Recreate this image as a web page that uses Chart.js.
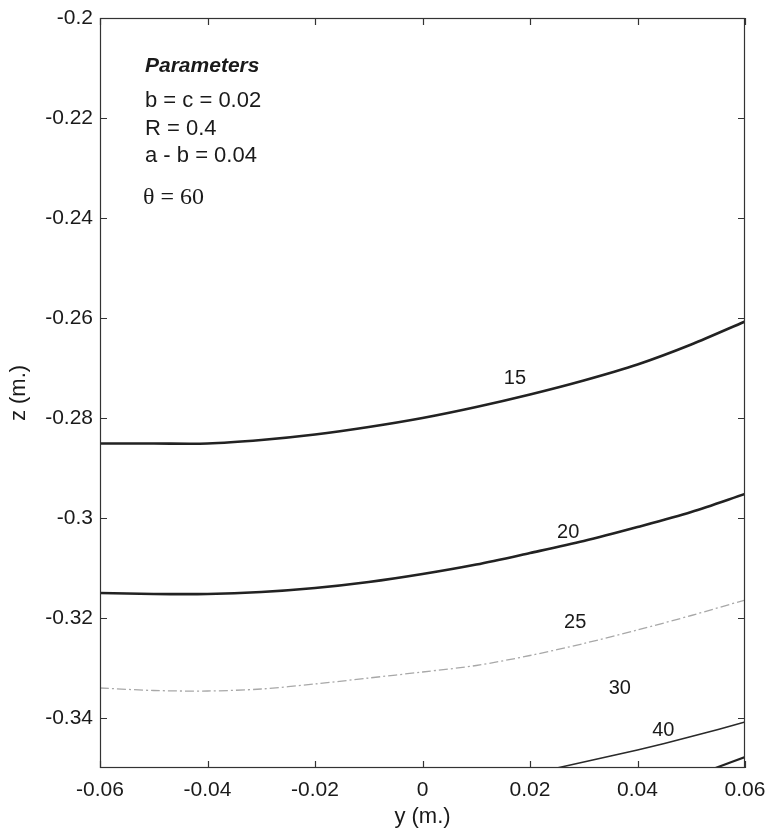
<!DOCTYPE html>
<html lang="en">
<head>
    <meta charset="UTF-8">
    <title>Contours z(y)</title>
    <script src="https://cdn.jsdelivr.net/npm/chart.js"></script>
    <style>
        html, body { margin: 0; padding: 0; background: #fff; }
        #wrap { width: 769px; height: 830px; position: relative; }
    </style>
</head>
<body>
<div id="wrap"><canvas id="contourChart"></canvas></div>
<script>
// contour lines, y (m.) against z (m.)
const yPos = [-0.06, -0.05, -0.04, -0.03, -0.02, -0.01, 0, 0.01, 0.02, 0.03, 0.04, 0.05, 0.06];
const z15 = [-0.2851, -0.2851, -0.2851, -0.2844, -0.2833, -0.2818, -0.2800, -0.2778, -0.2753, -0.2725, -0.2693, -0.2653, -0.2607];
const z20 = [-0.3150, -0.3152, -0.3152, -0.3148, -0.3140, -0.3128, -0.3112, -0.3093, -0.3070, -0.3046, -0.3018, -0.2988, -0.2952];
const z25 = [-0.3340, -0.3345, -0.3346, -0.3342, -0.3332, -0.3320, -0.3308, -0.3295, -0.3275, -0.3251, -0.3224, -0.3195, -0.3164];
const y40 = [0.025, 0.03, 0.035, 0.04, 0.045, 0.05, 0.055, 0.06];
const z40 = [-0.35, -0.3488, -0.3476, -0.3464, -0.3451, -0.3437, -0.3423, -0.3408];
const y50 = [0.0545, 0.06];
const z50 = [-0.35, -0.3478];

// contour value labels
const contourLabels = ['15', '20', '25', '30', '40'];
const labelY = [0.0172, 0.0271, 0.0284, 0.0367, 0.0448];
const labelZ = [-0.272, -0.3028, -0.3208, -0.334, -0.3424];

const xTicks = [-0.06, -0.04, -0.02, 0, 0.02, 0.04, 0.06];
const zTicks = [-0.34, -0.32, -0.3, -0.28, -0.26, -0.24, -0.22, -0.2];

const paramTitle = 'Parameters';
const paramLines = ['b = c = 0.02', 'R = 0.4', 'a - b = 0.04'];
const angleLine = 'θ = 60';

const FONT = "'Liberation Sans', Arial, sans-serif";
const toPts = (xs, zs) => xs.map((v, i) => ({ x: v, y: zs[i] }));

// box, inward ticks and the text inside the axes
const frameTicks = {
    id: 'frameTicks',
    afterDatasetsDraw(chart) {
        const { ctx, chartArea: a, scales: { x, y } } = chart;
        ctx.save();
        ctx.strokeStyle = '#333';
        ctx.lineWidth = 1.2;
        ctx.strokeRect(a.left + 0.5, a.top + 0.5, a.width - 1, a.height - 1);
        ctx.beginPath();
        xTicks.forEach(v => {
            const px = Math.round(x.getPixelForValue(v)) + 0.5;
            ctx.moveTo(px, a.bottom); ctx.lineTo(px, a.bottom - 7);
            ctx.moveTo(px, a.top); ctx.lineTo(px, a.top + 7);
        });
        zTicks.forEach(v => {
            const py = Math.round(y.getPixelForValue(v)) + 0.5;
            ctx.moveTo(a.left, py); ctx.lineTo(a.left + 7, py);
            ctx.moveTo(a.right, py); ctx.lineTo(a.right - 7, py);
        });
        ctx.stroke();

        ctx.fillStyle = '#1a1a1a';
        ctx.textBaseline = 'middle';
        ctx.textAlign = 'center';
        ctx.font = '20px ' + FONT;
        contourLabels.forEach((t, i) => {
            ctx.fillText(t, x.getPixelForValue(labelY[i]), y.getPixelForValue(labelZ[i]));
        });

        ctx.textAlign = 'left';
        const lx = a.left + 45;
        ctx.font = 'italic bold 21px ' + FONT;
        ctx.fillText(paramTitle, lx, a.top + 48);
        ctx.font = '22px ' + FONT;
        paramLines.forEach((t, i) => ctx.fillText(t, lx, a.top + 83 + i * 27.5));
        ctx.font = "24px 'Liberation Serif', 'Times New Roman', serif";
        ctx.fillText(angleLine, lx - 2, a.top + 180);
        ctx.restore();
    }
};

const ctx = document.getElementById('contourChart').getContext('2d');
new Chart(ctx, {
    type: 'scatter',
    data: {
        datasets: [
            { label: '15', data: toPts(yPos, z15), borderColor: '#222', borderWidth: 2.6 },
            { label: '20', data: toPts(yPos, z20), borderColor: '#222', borderWidth: 2.6 },
            { label: '25', data: toPts(yPos, z25), borderColor: '#a8a8a8', borderWidth: 1.3, borderDash: [9, 3, 2, 3] },
            { label: '40', data: toPts(y40, z40), borderColor: '#2a2a2a', borderWidth: 1.6 },
            { label: '50', data: toPts(y50, z50), borderColor: '#222', borderWidth: 2.2 }
        ].map(d => Object.assign(d, { showLine: true, pointRadius: 0, tension: 0.3, fill: false }))
    },
    options: {
        responsive: true,
        maintainAspectRatio: false,
        animation: false,
        events: [],
        layout: { padding: { left: 0, right: 24, top: 18, bottom: 0 } },
        plugins: { legend: { display: false }, tooltip: { enabled: false } },
        scales: {
            x: {
                type: 'linear', min: -0.06, max: 0.06,
                afterBuildTicks: s => { s.ticks = xTicks.map(v => ({ value: v })); },
                afterFit: s => { s.height = 62; s.paddingLeft = 0; s.paddingRight = 0; },
                grid: { display: false, drawTicks: false },
                border: { display: false },
                ticks: { color: '#1a1a1a', font: { family: FONT, size: 21 }, padding: 10, maxRotation: 0, callback: v => String(v) },
                title: { display: true, text: 'y (m.)', color: '#1a1a1a', font: { family: FONT, size: 22 }, padding: { top: 0, bottom: 0 } }
            },
            y: {
                type: 'linear', min: -0.35, max: -0.2,
                afterBuildTicks: s => { s.ticks = zTicks.map(v => ({ value: v })); },
                afterFit: s => { s.width = 100; s.paddingTop = 0; s.paddingBottom = 0; },
                grid: { display: false, drawTicks: false },
                border: { display: false },
                ticks: { color: '#1a1a1a', font: { family: FONT, size: 21 }, padding: 7, callback: v => String(v) },
                title: { display: true, text: 'z (m.)', color: '#1a1a1a', font: { family: FONT, size: 22 }, padding: { top: 6, bottom: 0 } }
            }
        }
    },
    plugins: [frameTicks]
});
</script>
</body>
</html>
